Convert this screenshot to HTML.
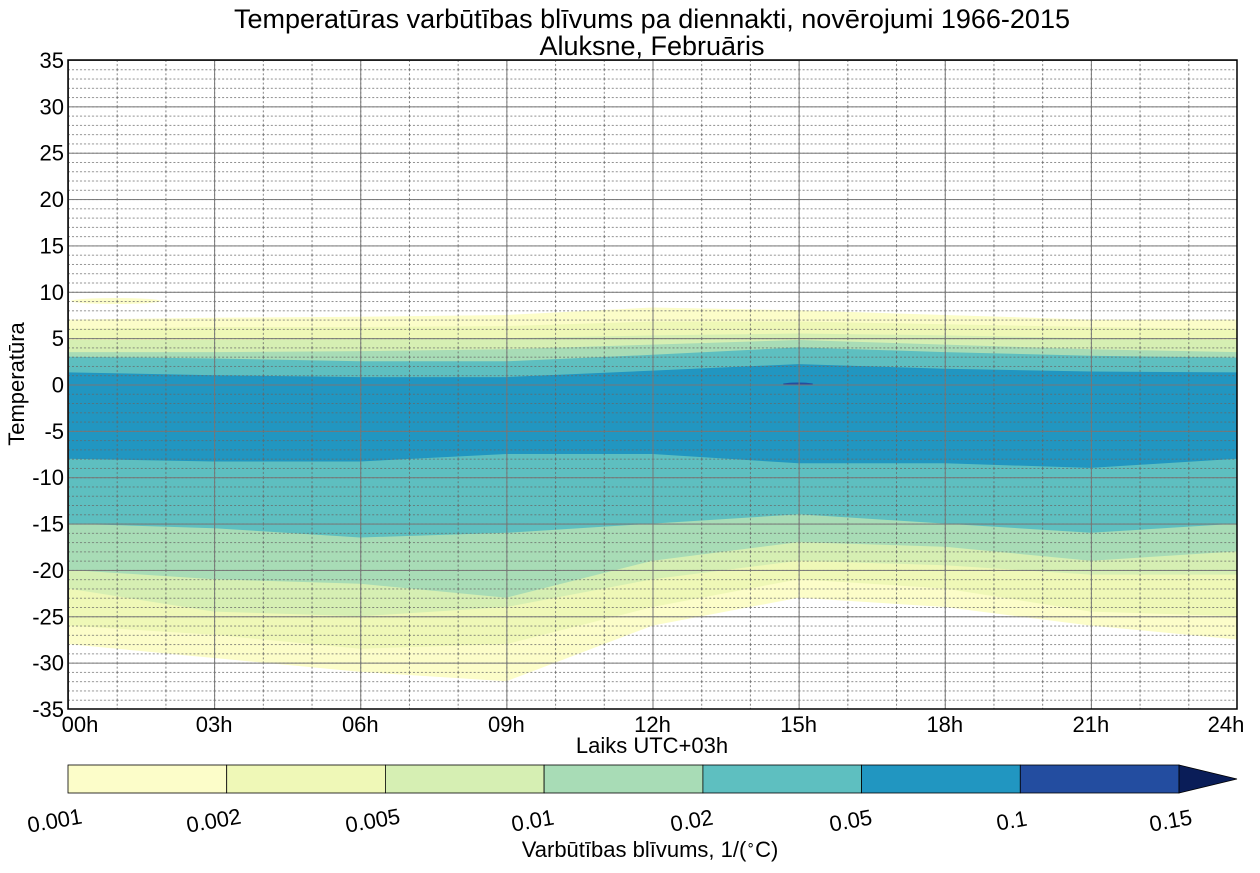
<!DOCTYPE html>
<html><head><meta charset="utf-8"><style>
body{margin:0;background:#fff;}
svg text{font-family:"Liberation Sans",Arial,sans-serif;fill:#000;}
</style></head><body>
<svg width="1260" height="868" viewBox="0 0 1260 868" xmlns="http://www.w3.org/2000/svg">
<defs>
<pattern id="minor" patternUnits="userSpaceOnUse" x="68" y="60" width="48.708" height="9.2714">
<line x1="0" y1="0.5" x2="48.708" y2="0.5" stroke="#666" stroke-width="0.8" stroke-dasharray="2,2"/>
<line x1="0.5" y1="0" x2="0.5" y2="9.2714" stroke="#666" stroke-width="0.8" stroke-dasharray="2,2"/>
</pattern>
<pattern id="major" patternUnits="userSpaceOnUse" x="68" y="60" width="146.125" height="46.357">
<line x1="0" y1="0.5" x2="146.125" y2="0.5" stroke="#777" stroke-width="1"/>
<line x1="0.5" y1="0" x2="0.5" y2="46.357" stroke="#777" stroke-width="1"/>
</pattern>
</defs>
<rect width="1260" height="868" fill="#fff"/>
<text x="652" y="28" font-size="27" text-anchor="middle">Temperatūras varbūtības blīvums pa diennakti, novērojumi 1966-2015</text>
<text x="652" y="55" font-size="27" text-anchor="middle">Aluksne, Februāris</text>
<g>
<polygon fill="#fcfdc9" points="68,319.6 214.1,317.7 360.3,316.8 506.4,315 652.5,307.5 798.6,310.3 944.8,315 1090.9,319.6 1237,319.6 1237,639.5 1090.9,625.6 944.8,607 798.6,597.7 652.5,625.6 506.4,681.2 360.3,671.9 214.1,658 68,644.1"/>
<polygon fill="#eff8b7" points="68,328.9 214.1,327 360.3,327 506.4,326.1 652.5,321.5 798.6,321.5 944.8,324.2 1090.9,327 1237,328.9 1237,616.3 1090.9,611.6 944.8,588.5 798.6,579.2 652.5,607 506.4,644.1 360.3,648.7 214.1,634.8 68,625.6"/>
<polygon fill="#d6efb3" points="68,340 214.1,340 360.3,339.1 506.4,338.1 652.5,335.4 798.6,333.5 944.8,335.4 1090.9,338.1 1237,340 1237,574.6 1090.9,574.6 944.8,565.3 798.6,560.7 652.5,579.2 506.4,607 360.3,616.3 214.1,611.6 68,588.5"/>
<polygon fill="#a8dcb6" points="68,352.1 214.1,352.1 360.3,351.1 506.4,349.3 652.5,344.6 798.6,340 944.8,344.6 1090.9,349.3 1237,352.1 1237,551.4 1090.9,560.7 944.8,546.8 798.6,542.1 652.5,560.7 506.4,597.7 360.3,583.8 214.1,579.2 68,569.9"/>
<polygon fill="#5ebfc0" points="68,356.7 214.1,358.5 360.3,361.3 506.4,361.3 652.5,354.8 798.6,347.4 944.8,352.1 1090.9,355.8 1237,357.6 1237,523.6 1090.9,532.8 944.8,523.6 798.6,514.3 652.5,523.6 506.4,532.8 360.3,537.5 214.1,528.2 68,523.6"/>
<polygon fill="#2196c1" points="68,372.4 214.1,375.2 360.3,377.1 506.4,377.1 652.5,370.6 798.6,364.1 944.8,368.7 1090.9,371.5 1237,372.4 1237,458.7 1090.9,467.9 944.8,463.3 798.6,463.3 652.5,454 506.4,454 360.3,461.5 214.1,461.5 68,458.7"/>
<ellipse cx="116" cy="301" rx="45" ry="3" fill="#fcfdc9"/>
<ellipse cx="798" cy="384" rx="15" ry="1.5" fill="#234da0"/>
</g>
<rect x="68" y="60" width="1169" height="649" fill="url(#minor)"/>
<rect x="68" y="60" width="1169" height="649" fill="url(#major)"/>
<rect x="68" y="60" width="1169" height="649" fill="none" stroke="#000" stroke-width="1.5"/>
<g font-size="22" text-anchor="end">
<text x="64" y="68">35</text><text x="64" y="114.4">30</text><text x="64" y="160.7">25</text><text x="64" y="207.1">20</text><text x="64" y="253.4">15</text><text x="64" y="299.8">10</text><text x="64" y="346.1">5</text><text x="64" y="392.5">0</text><text x="64" y="438.9">-5</text><text x="64" y="485.2">-10</text><text x="64" y="531.6">-15</text><text x="64" y="577.9">-20</text><text x="64" y="624.3">-25</text><text x="64" y="670.6">-30</text><text x="64" y="717">-35</text>
</g>
<g font-size="22" text-anchor="middle">
<text x="80" y="732">00h</text><text x="214.1" y="732">03h</text><text x="360.3" y="732">06h</text><text x="506.4" y="732">09h</text><text x="652.5" y="732">12h</text><text x="798.6" y="732">15h</text><text x="944.8" y="732">18h</text><text x="1090.9" y="732">21h</text><text x="1226" y="732">24h</text>
</g>
<text x="0" y="0" font-size="22" text-anchor="middle" transform="translate(24,384) rotate(-90)">Temperatūra</text>
<text x="652" y="753" font-size="22" text-anchor="middle">Laiks UTC+03h</text>
<g stroke="#000" stroke-width="0.8">
<rect x="68" y="765" width="158.7" height="28" fill="#fcfdc9"/>
<rect x="226.7" y="765" width="158.7" height="28" fill="#eff8b7"/>
<rect x="385.4" y="765" width="158.7" height="28" fill="#d6efb3"/>
<rect x="544.1" y="765" width="158.8" height="28" fill="#a8dcb6"/>
<rect x="702.9" y="765" width="158.7" height="28" fill="#5ebfc0"/>
<rect x="861.6" y="765" width="158.7" height="28" fill="#2196c1"/>
<rect x="1020.3" y="765" width="158.7" height="28" fill="#234da0"/>
<polygon points="1179,765 1237,779 1179,793" fill="#0a1d58"/>
</g>
<g font-size="22" text-anchor="middle">
<text transform="translate(56,828) rotate(-10)">0.001</text>
<text transform="translate(215,828) rotate(-10)">0.002</text>
<text transform="translate(374,828) rotate(-10)">0.005</text>
<text transform="translate(534,828) rotate(-10)">0.01</text>
<text transform="translate(693,828) rotate(-10)">0.02</text>
<text transform="translate(852,828) rotate(-10)">0.05</text>
<text transform="translate(1013,828) rotate(-10)">0.1</text>
<text transform="translate(1172,828) rotate(-10)">0.15</text>
</g>
<text x="650" y="857" font-size="22" text-anchor="middle">Varbūtības blīvums, 1/(<tspan font-size="14" dy="-8">∘</tspan><tspan dy="8">C)</tspan></text>
</svg>
</body></html>
